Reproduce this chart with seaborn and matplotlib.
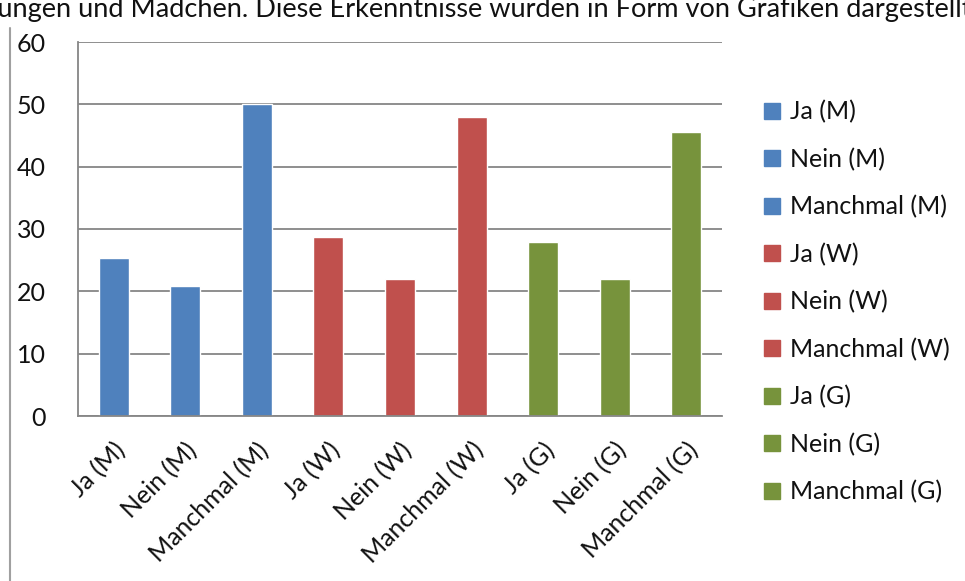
import matplotlib
matplotlib.use("Agg")
import matplotlib.pyplot as plt
from matplotlib.lines import Line2D
import seaborn as sns
import pandas as pd

categories = ["Ja (M)", "Nein (M)", "Manchmal (M)",
              "Ja (W)", "Nein (W)", "Manchmal (W)",
              "Ja (G)", "Nein (G)", "Manchmal (G)"]
values = [25.3, 20.9, 50.0, 28.7, 22.0, 48.0, 27.9, 22.0, 45.6]
group_colors = ["#4F81BD"] * 3 + ["#C0504D"] * 3 + ["#77933C"] * 3
y_ticks = [0, 10, 20, 30, 40, 50, 60]
caption = "Jungen und Mädchen. Diese Erkenntnisse wurden in Form von Grafiken dargestellt."

sns.set_theme(style="white")
plt.rcParams["font.family"] = ["Lato", "DejaVu Sans"]

df = pd.DataFrame({"Kategorie": categories, "Wert": values})

fig = plt.figure(figsize=(9.65, 5.81), dpi=100)
ax = fig.add_axes([78 / 965, 1 - 416 / 581, (722 - 78) / 965, (416 - 42) / 581])

sns.barplot(data=df, x="Kategorie", y="Wert", hue="Kategorie",
            palette=group_colors, width=0.42, saturation=1,
            legend=False, ax=ax)

grid_c = "#868686"
txt_c = "#111111"
fs = 18
ax.set_ylim(0, 60)
ax.set_xlim(-0.5, len(categories) - 0.5)
ax.set_yticks(y_ticks)
ax.yaxis.grid(True, color=grid_c, linewidth=1.3)
ax.set_axisbelow(True)
ax.set_xlabel("")
ax.set_ylabel("")
for side in ["top", "right"]:
    ax.spines[side].set_visible(False)
for side in ["left", "bottom"]:
    ax.spines[side].set_color(grid_c)
    ax.spines[side].set_linewidth(1.3)

# tick marks sit between categories on x
ax.set_xticks(range(len(categories)))
ax.set_xticklabels(categories, rotation=45, ha="right", rotation_mode="anchor",
                   fontsize=fs, color=txt_c)
ax.tick_params(axis="x", length=0, pad=16)
ax.set_xticks([i - 0.5 for i in range(len(categories) + 1)], minor=True)
ax.tick_params(axis="x", which="minor", length=8, width=1.3, color=grid_c,
               direction="out")
ax.tick_params(axis="y", length=8, width=1.3, color=grid_c, direction="out",
               labelsize=fs, labelcolor=txt_c, pad=15)

handles = [Line2D([0], [0], marker="s", linestyle="none", markersize=11,
                  markerfacecolor=c, markeredgecolor=c) for c in group_colors]
fig.legend(handles, categories, loc="upper left",
           bbox_to_anchor=(752 / 965, 1 - 90 / 581), frameon=False,
           fontsize=fs, handlelength=0.8, handletextpad=0.3,
           labelspacing=0.97, borderaxespad=0, labelcolor=txt_c)

# running text above and margin line at the left
fig.text(-14 / 965, 1 - 17 / 581, caption, fontsize=19.5, va="baseline",
         ha="left", color=txt_c)
fig.add_artist(Line2D([10 / 965, 10 / 965], [0, 1 - 28 / 581],
                      transform=fig.transFigure, color="#a0a0a0", linewidth=1.5))

fig.savefig("out.png", dpi=100)
